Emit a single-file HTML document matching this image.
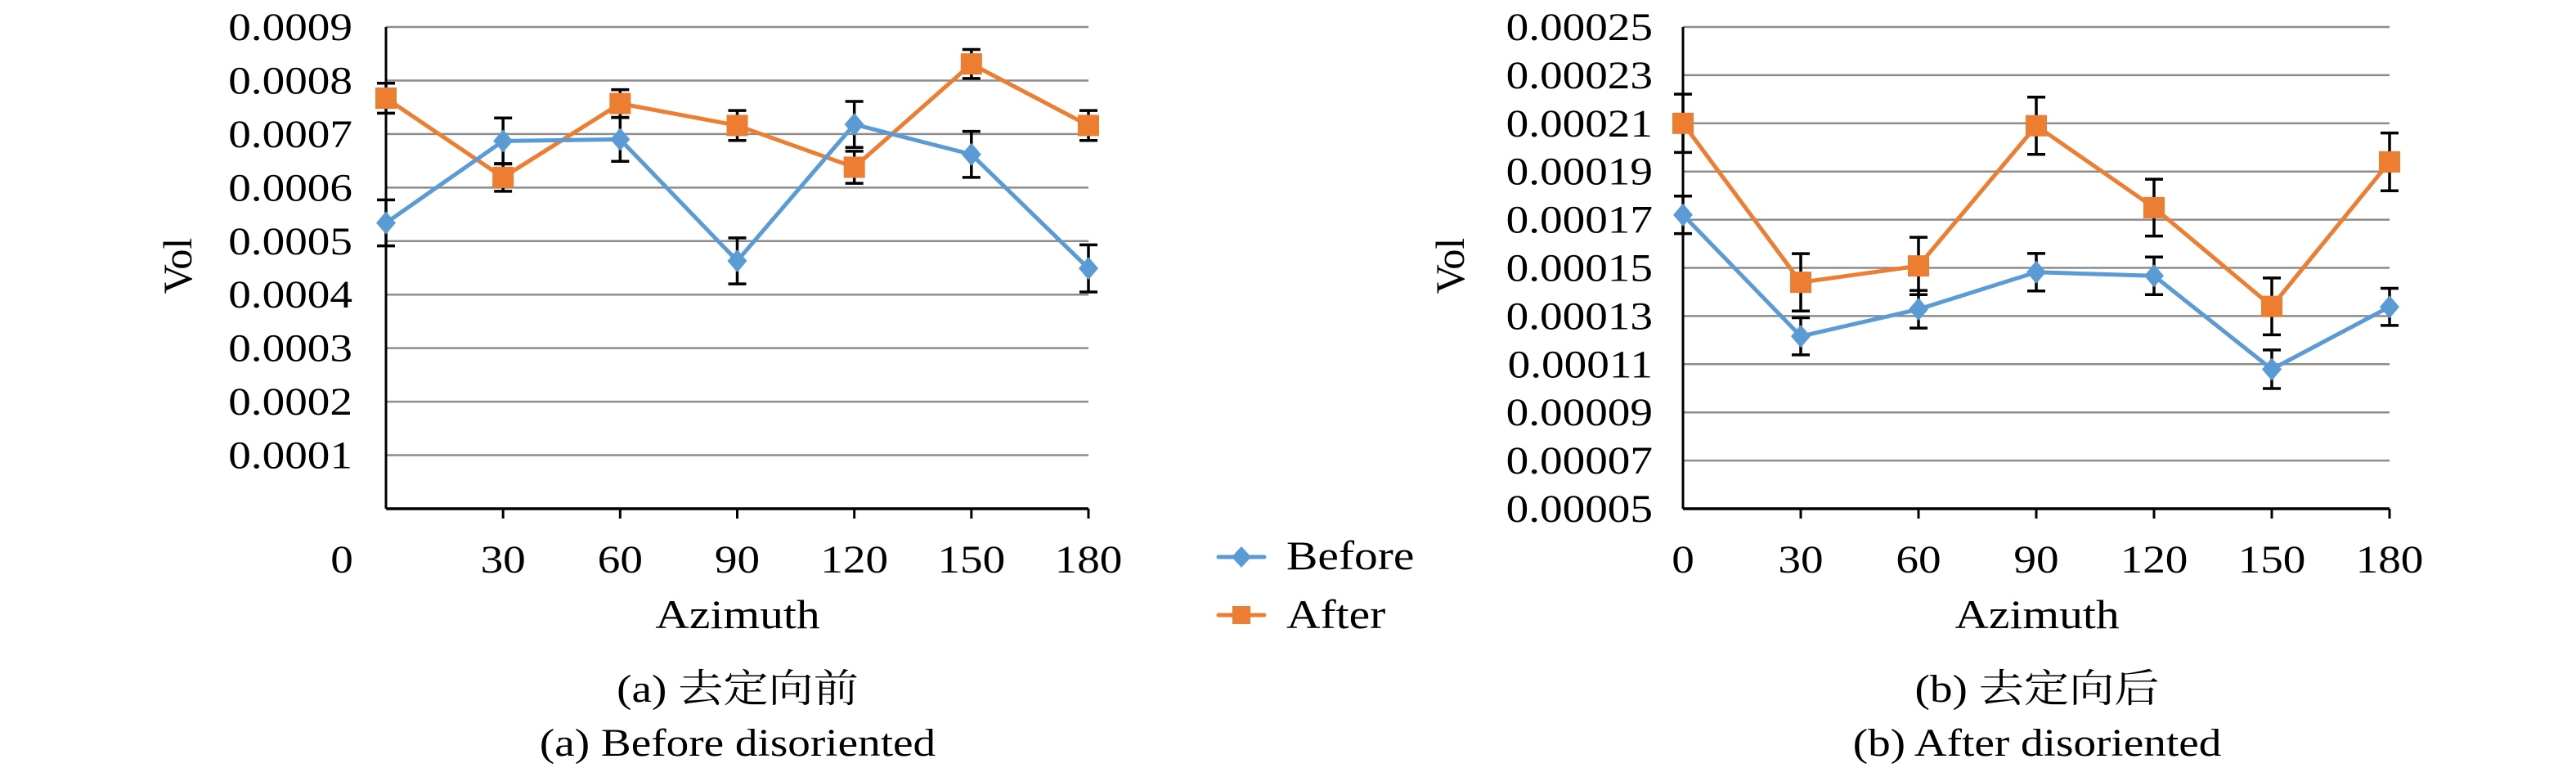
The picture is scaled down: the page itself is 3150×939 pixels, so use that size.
<!DOCTYPE html>
<html><head><meta charset="utf-8"><style>
html,body{margin:0;padding:0;background:#fff;}
svg{display:block;}
text{font-family:"Liberation Serif","Noto Serif CJK SC",serif;fill:#000;}
</style></head><body>
<svg id="chart" width="3150" height="939" viewBox="0 0 3150 939" xmlns="http://www.w3.org/2000/svg"></svg>
<script>
const categories = [0, 30, 60, 90, 120, 150, 180];
const beforeA = [0.000534, 0.000687, 0.00069, 0.000463, 0.000718, 0.000662, 0.000449];
const beforeAErr = [0.000043, 0.000043, 0.000041, 0.000043, 0.000043, 0.000043, 0.000044];
const afterA = [0.000767, 0.000619, 0.000757, 0.000716, 0.000638, 0.000831, 0.000716];
const afterAErr = [0.000028, 0.000026, 0.000026, 0.000028, 0.00003, 0.000027, 0.000028];
const beforeB = [0.000172, 0.0001216, 0.0001328, 0.0001482, 0.0001467, 0.0001079, 0.0001338];
const beforeBErr = [0.0000078, 0.0000077, 0.0000078, 0.0000078, 0.0000078, 0.000008, 0.0000077];
const afterB = [0.00021, 0.000144, 0.0001508, 0.000209, 0.000175, 0.000134, 0.000194];
const afterBErr = [0.0000121, 0.0000119, 0.0000119, 0.0000119, 0.0000118, 0.0000118, 0.000012];
const yTicksA = ["0.0001","0.0002","0.0003","0.0004","0.0005","0.0006","0.0007","0.0008","0.0009"];
const yTicksB = ["0.00005","0.00007","0.00009","0.00011","0.00013","0.00015","0.00017","0.00019","0.00021","0.00023","0.00025"];

const NS = "http://www.w3.org/2000/svg";
const svg = document.getElementById('chart');
const BLUE = "#5B9BD5", ORANGE = "#ED7D31";
function mk(tag, attrs, parent){
  const e = document.createElementNS(NS, tag);
  for (const k in attrs) e.setAttribute(k, attrs[k]);
  (parent || svg).appendChild(e);
  return e;
}
function txt(str, x, y, size, anchor, parent){
  const g = mk('g', {transform:`translate(${x},${y}) scale(1.15,1)`}, parent);
  const t = mk('text', {x:0, y:0, 'font-size':size, 'text-anchor':anchor}, g);
  t.textContent = str;
  return t;
}

function drawChart(cfg){
  const g = mk('g', {});
  
  
  const xs = i => cfg.x0 + (cfg.x1 - cfg.x0) * i / (categories.length - 1);
  const ys = v => cfg.yBottom - (v - cfg.yMin) / (cfg.yMax - cfg.yMin) * (cfg.yBottom - cfg.yTop);
  // gridlines + ticks
  cfg.ticks.forEach(lbl => {
    const v = parseFloat(lbl);
    const y = ys(v);
    if (Math.abs(y - cfg.yBottom) > 1) {
      const l = mk('line', {x1:cfg.x0, x2:cfg.x1, y1:y, y2:y, stroke:'#8c8c8c', 'stroke-width':2.5}, g);
      
      
    }
    const t = txt(lbl, cfg.labelRight, y + 16, 48, 'end', g);
    
    
  });
  // axes
  const ya = mk('line', {x1:cfg.x0, x2:cfg.x0, y1:cfg.yTop, y2:cfg.yBottom, stroke:'#000', 'stroke-width':3}, g);
  
  
  const xa = mk('line', {x1:cfg.x0, x2:cfg.x1, y1:cfg.yBottom, y2:cfg.yBottom, stroke:'#000', 'stroke-width':3.5}, g);
  
  
  categories.forEach((c, i) => {
    const x = xs(i);
    if (i > 0) mk('line', {x1:x, x2:x, y1:cfg.yBottom, y2:cfg.yBottom + 12, stroke:'#000', 'stroke-width':3}, g);
    const lx = (i === 0 && cfg.zeroShift) ? x - cfg.zeroShift : x;
    const t = txt(String(c), lx, 700, 48, 'middle', g);
    
    
  });
  // series
  cfg.series.forEach(s => {
    const sg = mk('g', {}, g);
    
    
    const pts = s.vals.map((v, i) => `${xs(i)},${ys(v)}`).join(' ');
    mk('polyline', {points:pts, fill:'none', stroke:s.color, 'stroke-width':5, 'stroke-linejoin':'round'}, sg);
    s.vals.forEach((v, i) => {
      const x = xs(i), yt = ys(v + s.err[i]), yb = ys(v - s.err[i]);
      const eb = mk('path', {d:`M${x},${yt}V${yb}M${x-11},${yt}H${x+11}M${x-11},${yb}H${x+11}`, stroke:'#000', 'stroke-width':3.5, fill:'none'}, sg);
      
      
    });
    s.vals.forEach((v, i) => {
      const x = xs(i), y = ys(v);
      let m;
      if (s.marker === 'diamond') {
        m = mk('path', {d:`M${x},${y-14}L${x+12},${y}L${x},${y+14}L${x-12},${y}Z`, fill:s.color}, sg);
      } else {
        m = mk('rect', {x:x-13, y:y-13, width:26, height:26, fill:s.color}, sg);
      }
      
      
    });
  });
  const at = txt('Azimuth', cfg.titleX, 768, 50, 'middle', g);
  
  
  const vg = mk('g', {transform:`translate(${cfg.volX},325) rotate(-90)`}, g);
  const vt = mk('text', {x:0, y:0, 'font-size':50, 'text-anchor':'middle'}, vg);
  vt.textContent = 'Vol';
  
  
  const c1 = txt(cfg.cap1, cfg.titleX, 858, 48, 'middle', g);
  
  
  const c2 = txt(cfg.cap2, cfg.titleX, 924, 48, 'middle', g);
  
  
}

drawChart({name:'chart-before', x0:472, x1:1331, yTop:33, yBottom:622, yMin:0, yMax:0.0009,
  ticks:yTicksA, labelRight:431, zeroShift:54, titleX:902, volX:234,
  cap1:'(a) 去定向前', cap2:'(a) Before disoriented',
  series:[{name:'series-after', vals:afterA, err:afterAErr, color:ORANGE, marker:'square'},
          {name:'series-before', vals:beforeA, err:beforeAErr, color:BLUE, marker:'diamond'}]});
drawChart({name:'chart-after', x0:2058, x1:2922, yTop:33, yBottom:622, yMin:0.00005, yMax:0.00025,
  ticks:yTicksB, labelRight:2021, zeroShift:0, titleX:2491, volX:1790,
  cap1:'(b) 去定向后', cap2:'(b) After disoriented',
  series:[{name:'series-after', vals:afterB, err:afterBErr, color:ORANGE, marker:'square'},
          {name:'series-before', vals:beforeB, err:beforeBErr, color:BLUE, marker:'diamond'}]});

// legend
const lg = mk('g', {});


const e1 = mk('g', {}, lg);


mk('line', {x1:1490, x2:1546, y1:681, y2:681, stroke:BLUE, 'stroke-width':5, 'stroke-linecap':'round'}, e1);
mk('path', {d:'M1518,668L1530,681L1518,694L1506,681Z', fill:BLUE}, e1);
txt('Before', 1573, 696, 50, 'start', e1);
const e2 = mk('g', {}, lg);


mk('line', {x1:1490, x2:1546, y1:752, y2:752, stroke:ORANGE, 'stroke-width':5, 'stroke-linecap':'round'}, e2);
mk('rect', {x:1507, y:741, width:22, height:22, fill:ORANGE}, e2);
txt('After', 1573, 768, 50, 'start', e2);
</script>
</body></html>
